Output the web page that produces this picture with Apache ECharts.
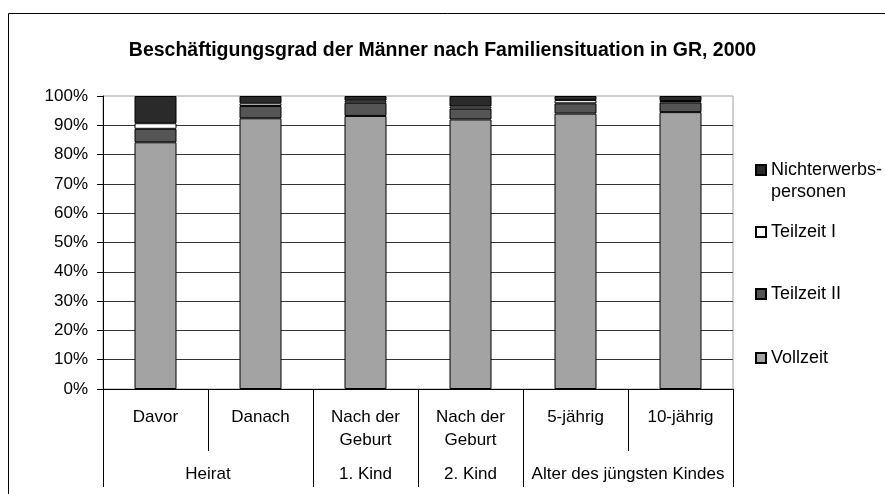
<!DOCTYPE html>
<html>
<head>
<meta charset="utf-8">
<script src="https://cdn.jsdelivr.net/npm/echarts@6/dist/echarts.min.js"></script>
<style>
html,body{margin:0;padding:0;background:#fff;}
#chart{width:885px;height:494px;}
</style>
</head>
<body>
<div id="chart"></div>
<script>
const categories = ['Davor', 'Danach', 'Nach der\nGeburt', 'Nach der\nGeburt', '5-jährig', '10-jährig'];
const groupNames = ['Heirat', '1. Kind', '2. Kind', 'Alter des jüngsten Kindes'];
const groupSpans = [2, 1, 1, 2];
const yTicks = [0, 10, 20, 30, 40, 50, 60, 70, 80, 90, 100];

const vollzeit = [84.2, 92.4, 93.2, 92.0, 94.0, 94.5];
const teilzeitII = [4.6, 4.2, 4.5, 3.7, 3.5, 3.3];
const teilzeitI = [1.9, 0.9, 0.7, 0.7, 1.1, 0.5];
const nichterwerb = [9.3, 2.5, 1.6, 3.6, 1.4, 1.7];

const FONT = '"Liberation Sans", Arial, sans-serif';

// group boundaries and centres derived from spans
const groupBounds = [0];
groupSpans.forEach(s => groupBounds.push(groupBounds[groupBounds.length - 1] + s));
const groupCenters = groupSpans.map((s, i) => groupBounds[i] + s / 2);

const chart = echarts.init(document.getElementById('chart'), null, {renderer: 'canvas'});

function mkSeries(name, data, color) {
  return {
    name: name, type: 'bar', stack: 'total', data: data,
    barWidth: 42,
    itemStyle: {color: color, borderColor: '#000', borderWidth: 1},
    emphasis: {disabled: true}
  };
}

const legendText = {fontFamily: FONT, fontSize: 18, color: '#000', lineHeight: 22};

function mkLegend(name, top, extra) {
  return Object.assign({
    data: [name], orient: 'vertical', left: 755, top: top, padding: 0,
    icon: 'rect', itemWidth: 10, itemHeight: 10, itemGap: 0,
    selectedMode: false,
    textStyle: legendText
  }, extra || {});
}

chart.setOption({
  animation: false,
  backgroundColor: '#fff',
  title: {
    text: 'Beschäftigungsgrad der Männer nach Familiensituation in GR, 2000',
    left: 'center', top: 36,
    textStyle: {fontFamily: FONT, fontSize: 19.5, fontWeight: 'bold', color: '#000'}
  },
  graphic: [{
    type: 'rect', silent: true,
    shape: {x: 8.5, y: 13.5, width: 1000, height: 1000},
    style: {fill: 'none', stroke: '#000', lineWidth: 1}
  }],
  legend: [
    mkLegend('Nichterwerbs-\npersonen', 137, {formatter: function (n) { return ' \n' + n; }}),
    mkLegend('Teilzeit I', 221),
    mkLegend('Teilzeit II', 283),
    mkLegend('Vollzeit', 347)
  ],
  grid: {left: 103, top: 96, right: 152, bottom: 105, show: true, borderColor: '#a0a0a0', borderWidth: 1, containLabel: false},
  xAxis: [{
    type: 'category', data: categories, position: 'bottom',
    axisLine: {show: true, lineStyle: {color: '#000', width: 1}},
    axisTick: {show: true, interval: 0, length: 62, lineStyle: {color: '#000'}},
    axisLabel: {interval: 0, margin: 17, fontFamily: FONT, fontSize: 17, color: '#000', lineHeight: 23},
    splitLine: {show: false}
  }, {
    type: 'value', min: 0, max: 6, position: 'bottom',
    axisLine: {show: false},
    axisTick: {show: true, customValues: groupBounds, length: 98, lineStyle: {color: '#000'}},
    axisLabel: {
      customValues: groupCenters, margin: 77,
      fontFamily: FONT, fontSize: 17, color: '#000',
      formatter: function (v) {
        const i = groupCenters.indexOf(v);
        return i >= 0 ? groupNames[i] : '';
      }
    },
    splitLine: {show: false}
  }],
  yAxis: {
    type: 'value', min: 0, max: 100, interval: 10,
    axisLine: {show: true, lineStyle: {color: '#000', width: 1}},
    axisTick: {show: true, length: 6, lineStyle: {color: '#000'}},
    axisLabel: {margin: 15, fontFamily: FONT, fontSize: 17, color: '#000', formatter: '{value}%'},
    splitLine: {show: true, showMaxLine: false, lineStyle: {color: '#333', width: 1}}
  },
  series: [
    mkSeries('Vollzeit', vollzeit, '#a3a3a3'),
    mkSeries('Teilzeit II', teilzeitII, '#555555'),
    mkSeries('Teilzeit I', teilzeitI, '#ffffff'),
    mkSeries('Nichterwerbs-\npersonen', nichterwerb, '#2a2a2a')
  ]
});
</script>
</body>
</html>
